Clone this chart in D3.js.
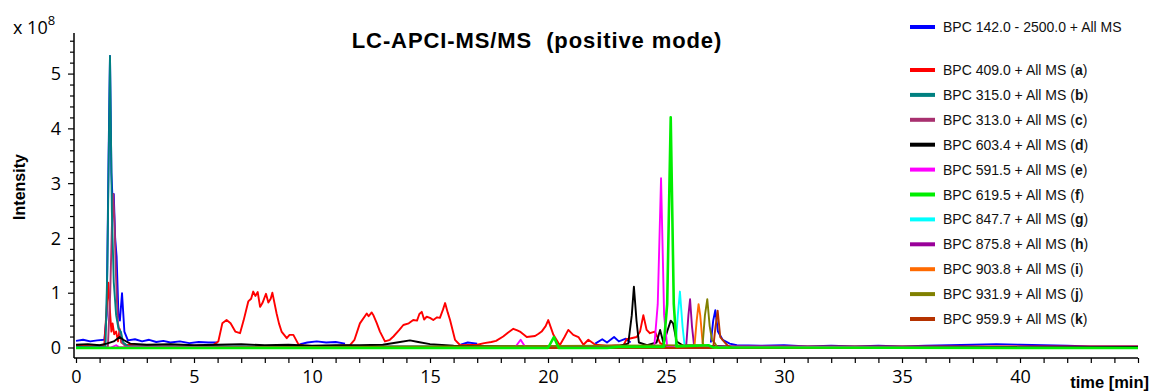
<!DOCTYPE html>
<html>
<head>
<meta charset="utf-8">
<script src="https://cdn.jsdelivr.net/npm/d3@7"></script>
<style>
  html, body { margin: 0; padding: 0; background: #fff; }
  svg { display: block; }
</style>
</head>
<body>
<svg id="chart" width="1153" height="392"></svg>
<script>
// ---------------- DATA (time [min], intensity [x 1e8]) ----------------
const xTickValues = [0, 5, 10, 15, 20, 25, 30, 35, 40];
const yTickValues = [0, 1, 2, 3, 4, 5];
const titleText = "LC-APCI-MS/MS  (positive mode)";

const bpcTotal = [[0,0.13],[0.3,0.15],[0.6,0.12],[0.9,0.14],[1.2,0.15],[1.3,0.6],[1.38,3.5],[1.44,5.33],[1.5,3.2],[1.56,2.6],[1.6,2.81],[1.66,2.0],[1.72,1.67],[1.8,0.6],[1.86,0.5],[1.95,1.0],[2.05,0.3],[2.2,0.14],[2.5,0.16],[2.8,0.12],[3.1,0.15],[3.4,0.11],[3.7,0.13],[4.0,0.1],[4.4,0.12],[4.8,0.09],[5.2,0.11],[5.6,0.1],[6.0,0.1],[6.05,null],[9.5,0.07],[9.8,0.1],[10.2,0.12],[10.6,0.1],[11.0,0.11],[11.4,0.08],[11.6,null],[16.3,0.06],[16.6,0.1],[17.0,0.08],[17.3,null],[22.0,0.08],[22.3,0.16],[22.5,0.1],[22.8,0.2],[23.0,0.12],[23.3,0.17],[23.5,0.1],[23.8,null],[26.9,0.1],[27.0,0.5],[27.09,0.69],[27.2,0.3],[27.4,0.15],[27.7,0.08],[28,0.05],[29,0.04],[30,0.05],[31,0.03],[32,0.04],[33,0.03],[34,0.04],[35,0.03],[36,0.04],[37,0.05],[38,0.06],[39,0.07],[40,0.06],[41,0.05],[42,0.04],[43,0.03],[44,0.03],[45,0.03]];

const bpcA = [[0,0.04],[1.2,0.05],[1.28,0.6],[1.37,1.19],[1.45,0.6],[1.5,0.3],[1.55,0.45],[1.62,0.25],[1.7,0.3],[1.78,0.12],[1.85,0.35],[1.92,0.1],[2.1,0.06],[3,0.04],[4,0.05],[5,0.04],[5.8,0.05],[6.03,0.12],[6.2,0.45],[6.38,0.51],[6.55,0.45],[6.75,0.3],[6.95,0.27],[7.1,0.5],[7.3,0.85],[7.42,0.9],[7.51,1.03],[7.6,0.95],[7.7,1.02],[7.8,0.75],[7.9,0.82],[8.05,0.99],[8.15,0.83],[8.25,0.9],[8.32,1.01],[8.5,0.63],[8.6,0.45],[8.71,0.3],[8.93,0.18],[9.05,0.24],[9.21,0.24],[9.42,0.07],[9.7,0.04],[10.5,0.03],[11.6,0.05],[11.8,0.15],[12.03,0.45],[12.32,0.63],[12.4,0.58],[12.53,0.65],[12.6,0.6],[12.74,0.46],[12.88,0.3],[13.09,0.12],[13.3,0.15],[13.45,0.21],[13.7,0.33],[13.87,0.42],[14.1,0.45],[14.29,0.51],[14.45,0.5],[14.55,0.62],[14.65,0.66],[14.75,0.52],[14.86,0.57],[15.0,0.55],[15.14,0.51],[15.3,0.56],[15.42,0.55],[15.55,0.7],[15.64,0.82],[15.75,0.65],[15.85,0.51],[16.06,0.15],[16.28,0.05],[17.0,0.06],[17.3,0.09],[17.6,0.11],[17.8,0.13],[18.1,0.21],[18.3,0.28],[18.53,0.35],[18.7,0.32],[18.81,0.3],[19.1,0.2],[19.45,0.22],[19.6,0.26],[19.73,0.3],[19.9,0.4],[20.01,0.51],[20.23,0.24],[20.5,0.05],[20.7,0.2],[20.86,0.33],[21.07,0.24],[21.29,0.2],[21.5,0.06],[21.71,0.15],[22.0,0.06],[22.5,0.04],[23.2,0.05],[23.33,0.16],[23.76,0.2],[23.9,0.3],[24.04,0.6],[24.18,0.33],[24.32,0.27],[24.53,0.3],[24.75,0.09],[25,0.04],[27,0.03],[45,0.03]];

const bpcB = [[0,0.02],[1.25,0.03],[1.33,1.5],[1.44,5.33],[1.52,2.5],[1.6,1.2],[1.7,0.6],[1.8,0.35],[1.9,0.3],[2.0,0.1],[2.2,0.03],[45,0.02]];

const bpcC = [[0,0.01],[1.35,0.02],[1.45,1.0],[1.52,2.2],[1.58,2.81],[1.64,2.2],[1.68,1.5],[1.73,0.9],[1.78,0.45],[1.85,0.3],[1.95,0.1],[2.1,0.03],[45,0.01]];

const bpcD = [[0,0.06],[0.5,0.07],[1.0,0.05],[1.3,0.08],[1.6,0.12],[1.85,0.2],[2.0,0.15],[2.3,0.08],[3,0.06],[4,0.07],[5,0.05],[6,0.06],[7,0.07],[8,0.05],[9,0.06],[10,0.04],[11,0.05],[12,0.05],[13,0.06],[13.6,0.1],[14.15,0.14],[14.5,0.11],[15,0.07],[16,0.04],[18,0.03],[20,0.03],[22,0.03],[23,0.04],[23.4,0.08],[23.55,0.6],[23.64,1.12],[23.75,0.5],[23.85,0.1],[24.2,0.05],[24.6,0.1],[24.75,0.33],[24.9,0.08],[25.05,0.3],[25.2,0.5],[25.3,0.45],[25.45,0.12],[25.7,0.05],[26.5,0.04],[28,0.02],[45,0.02]];

const bpcE = [[0,0.0],[1.5,0.01],[1.7,0.05],[1.8,0.02],[18.6,0.01],[18.84,0.15],[19.05,0.01],[24.5,0.01],[24.65,0.8],[24.79,3.1],[24.92,0.6],[25.05,0.03],[45,0.0]];

const bpcF = [[0,0.0],[20.0,0.0],[20.25,0.2],[20.45,0.0],[22.5,0.0],[23,0.02],[24.9,0.02],[25.05,0.8],[25.2,4.21],[25.33,0.8],[25.45,0.03],[26.8,0.05],[27.0,0.01],[45,0.0]];

const bpcG = [[0,0],[25.4,0],[25.5,0.6],[25.59,1.03],[25.7,0.4],[25.8,0],[45,0]];
const bpcH = [[0,0],[25.85,0],[25.95,0.6],[26.02,0.89],[26.1,0.4],[26.2,0],[45,0]];
const bpcI = [[0,0],[26.2,0],[26.3,0.5],[26.38,0.8],[26.45,0.6],[26.55,0.1],[26.65,0],[45,0]];
const bpcJ = [[0,0],[26.55,0.05],[26.65,0.6],[26.75,0.89],[26.85,0.4],[26.95,0.15],[27.05,0.1],[27.2,0],[45,0]];
const bpcK = [[0,0],[27.0,0],[27.1,0.4],[27.19,0.68],[27.3,0.2],[27.45,0.12],[27.6,0.05],[27.8,0],[45,0]];

const legendLabels = ["BPC 142.0 - 2500.0 + All MS","BPC 409.0 + All MS","BPC 315.0 + All MS","BPC 313.0 + All MS","BPC 603.4 + All MS","BPC 591.5 + All MS","BPC 619.5 + All MS","BPC 847.7 + All MS","BPC 875.8 + All MS","BPC 903.8 + All MS","BPC 931.9 + All MS","BPC 959.9 + All MS"];
const legendLetters = ["", "a","b","c","d","e","f","g","h","i","j","k"];
const seriesData = [bpcTotal, bpcA, bpcB, bpcC, bpcD, bpcE, bpcF, bpcG, bpcH, bpcI, bpcJ, bpcK];

// ---------------- STYLE ----------------
const colors = ["#0000ff","#ff0000","#008080","#a8306f","#000000","#ff00ff","#00ee00","#00ffff","#990099","#ff6a00","#808000","#b53200"];
const drawOrder = [0,1,3,2,4,5,7,8,9,10,11,6];

const svg = d3.select("#chart");
const x = d3.scaleLinear().domain([0, 45]).range([76, 1138]);
const y = d3.scaleLinear().domain([0, 5.75]).range([348, 33]);
const axisY = 358;
const axisX = 74;

// title
svg.append("text").attr("x", 537).attr("y", 48).attr("text-anchor", "middle")
  .style("font-family", "Liberation Sans, Arial, sans-serif").style("font-weight", "bold")
  .style("font-size", "22px").style("letter-spacing", "0.9px").style("white-space","pre")
  .attr("xml:space","preserve")
  .text(titleText);

// traces
const line = d3.line().defined(d => d[1] != null).x(d => x(d[0])).y(d => y(d[1]));
const traces = svg.append("g");
drawOrder.forEach(i => {
  traces.append("path").datum(seriesData[i])
    .attr("fill", "none").attr("stroke", colors[i])
    .attr("stroke-width", i === 6 ? 2.6 : 1.9)
    .attr("stroke-linejoin", "round")
    .attr("d", line);
});

// axes
const font = "Open Sans, sans-serif";
const xAxis = d3.axisBottom(x).tickValues(d3.range(0, 46, 1)).tickSize(5)
  .tickFormat(d => xTickValues.includes(d) ? d : "");
const gx = svg.append("g").attr("transform", `translate(0,${axisY})`).call(xAxis);
gx.select(".domain").attr("d", `M${axisX},0H${x(45)}`).attr("stroke-width", 1.5);
gx.selectAll(".tick line").attr("stroke-width", 1.2);
gx.selectAll(".tick text").attr("y", 12).style("font-family", font).style("font-size", "18px").attr("fill", "#000");

const yMinor = d3.range(0, 57, 2).map(v => v / 10);
const gy = svg.append("g").attr("transform", `translate(${axisX},0)`);
gy.append("line").attr("x1", 0).attr("x2", 0).attr("y1", y(5.75)).attr("y2", axisY).attr("stroke", "#000").attr("stroke-width", 1.5);
gy.selectAll("line.minor").data(yMinor).join("line").attr("class", "minor")
  .attr("x1", d => Math.abs(d - Math.round(d)) < 1e-6 ? -6 : -4)
  .attr("x2", 0).attr("y1", d => y(d)).attr("y2", d => y(d)).attr("stroke", "#000").attr("stroke-width", 1.2);
const yAxis = d3.axisLeft(y).tickValues(yTickValues).tickSize(0).tickPadding(13).tickFormat(d3.format("d"));
const gyl = svg.append("g").attr("transform", `translate(${axisX},0)`).call(yAxis);
gyl.select(".domain").remove();
gyl.selectAll(".tick text").style("font-family", font).style("font-size", "18px").attr("fill", "#000");

// exponent label
const expT = svg.append("text").attr("x", 13).attr("y", 34).style("font-family", font).style("font-size", "18px");
expT.append("tspan").text("x 10");
expT.append("tspan").attr("dy", -9).style("font-size", "13px").text("8");

// axis titles
svg.append("text").attr("transform", "translate(25,187) rotate(-90)").attr("text-anchor", "middle")
  .style("font-family", "Liberation Sans, Arial, sans-serif").style("font-weight", "bold").style("font-size", "16px")
  .text("Intensity");
svg.append("text").attr("x", 1149).attr("y", 388).attr("text-anchor", "end")
  .style("font-family", "Liberation Sans, Arial, sans-serif").style("font-weight", "bold").style("font-size", "16.5px")
  .text("time [min]");

// legend
const legendY = i => i === 0 ? 27 : 70 + (i - 1) * 24.9;
const lg = svg.append("g");
legendLabels.forEach((lab, i) => {
  const yy = legendY(i);
  lg.append("line").attr("x1", 910).attr("x2", 935).attr("y1", yy).attr("y2", yy)
    .attr("stroke", colors[i]).attr("stroke-width", 4);
  const t = lg.append("text").attr("x", 943).attr("y", yy + 5)
    .style("font-family", "Liberation Sans, Arial, sans-serif").style("font-size", "14px").attr("fill", "#111");
  t.append("tspan").text(lab);
  if (legendLetters[i]) {
    t.append("tspan").text(" (");
    t.append("tspan").style("font-weight", "bold").text(legendLetters[i]);
    t.append("tspan").text(")");
  }
});
</script>
</body>
</html>
